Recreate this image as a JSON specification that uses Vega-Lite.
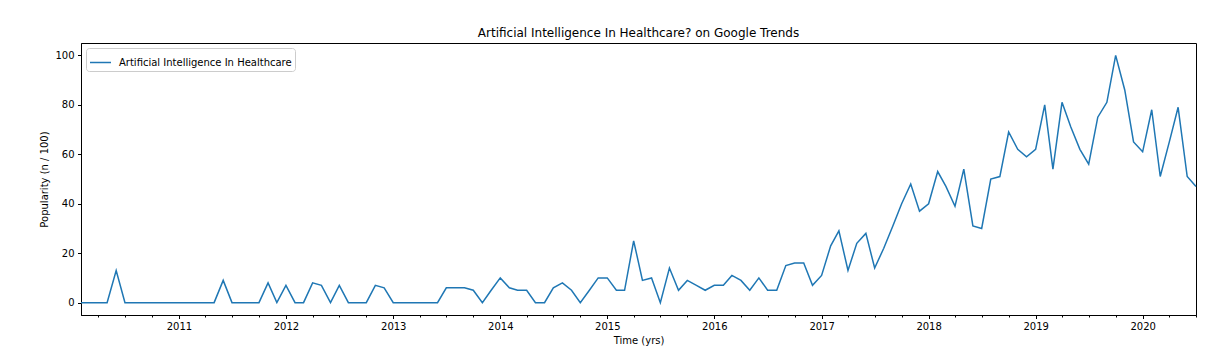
{
  "$schema": "https://vega.github.io/schema/vega-lite/v6.json",
  "width": 1115,
  "height": 272,
  "autosize": {"type": "none"},
  "padding": {"left": 81, "top": 43, "right": 31, "bottom": 44},
  "title": {"text": "Artificial Intelligence In Healthcare? on Google Trends", "fontSize": 12, "font": "DejaVu Sans", "fontWeight": "normal", "color": "black", "offset": 3},
  "config": {
    "view": {"stroke": "black", "strokeWidth": 1},
    "axis": {"labelFont": "DejaVu Sans", "titleFont": "DejaVu Sans", "labelColor": "black", "titleColor": "black", "tickColor": "black", "domainColor": "black", "labelFontSize": 10, "titleFontSize": 10, "titleFontWeight": "normal", "grid": false}
  },
  "data": {"values": [
    {"date": "2010-02-01", "popularity": 0, "series": "Artificial Intelligence In Healthcare"},
    {"date": "2010-03-01", "popularity": 0, "series": "Artificial Intelligence In Healthcare"},
    {"date": "2010-04-01", "popularity": 0, "series": "Artificial Intelligence In Healthcare"},
    {"date": "2010-05-01", "popularity": 0, "series": "Artificial Intelligence In Healthcare"},
    {"date": "2010-06-01", "popularity": 13, "series": "Artificial Intelligence In Healthcare"},
    {"date": "2010-07-01", "popularity": 0, "series": "Artificial Intelligence In Healthcare"},
    {"date": "2010-08-01", "popularity": 0, "series": "Artificial Intelligence In Healthcare"},
    {"date": "2010-09-01", "popularity": 0, "series": "Artificial Intelligence In Healthcare"},
    {"date": "2010-10-01", "popularity": 0, "series": "Artificial Intelligence In Healthcare"},
    {"date": "2010-11-01", "popularity": 0, "series": "Artificial Intelligence In Healthcare"},
    {"date": "2010-12-01", "popularity": 0, "series": "Artificial Intelligence In Healthcare"},
    {"date": "2011-01-01", "popularity": 0, "series": "Artificial Intelligence In Healthcare"},
    {"date": "2011-02-01", "popularity": 0, "series": "Artificial Intelligence In Healthcare"},
    {"date": "2011-03-01", "popularity": 0, "series": "Artificial Intelligence In Healthcare"},
    {"date": "2011-04-01", "popularity": 0, "series": "Artificial Intelligence In Healthcare"},
    {"date": "2011-05-01", "popularity": 0, "series": "Artificial Intelligence In Healthcare"},
    {"date": "2011-06-01", "popularity": 9, "series": "Artificial Intelligence In Healthcare"},
    {"date": "2011-07-01", "popularity": 0, "series": "Artificial Intelligence In Healthcare"},
    {"date": "2011-08-01", "popularity": 0, "series": "Artificial Intelligence In Healthcare"},
    {"date": "2011-09-01", "popularity": 0, "series": "Artificial Intelligence In Healthcare"},
    {"date": "2011-10-01", "popularity": 0, "series": "Artificial Intelligence In Healthcare"},
    {"date": "2011-11-01", "popularity": 8, "series": "Artificial Intelligence In Healthcare"},
    {"date": "2011-12-01", "popularity": 0, "series": "Artificial Intelligence In Healthcare"},
    {"date": "2012-01-01", "popularity": 7, "series": "Artificial Intelligence In Healthcare"},
    {"date": "2012-02-01", "popularity": 0, "series": "Artificial Intelligence In Healthcare"},
    {"date": "2012-03-01", "popularity": 0, "series": "Artificial Intelligence In Healthcare"},
    {"date": "2012-04-01", "popularity": 8, "series": "Artificial Intelligence In Healthcare"},
    {"date": "2012-05-01", "popularity": 7, "series": "Artificial Intelligence In Healthcare"},
    {"date": "2012-06-01", "popularity": 0, "series": "Artificial Intelligence In Healthcare"},
    {"date": "2012-07-01", "popularity": 7, "series": "Artificial Intelligence In Healthcare"},
    {"date": "2012-08-01", "popularity": 0, "series": "Artificial Intelligence In Healthcare"},
    {"date": "2012-09-01", "popularity": 0, "series": "Artificial Intelligence In Healthcare"},
    {"date": "2012-10-01", "popularity": 0, "series": "Artificial Intelligence In Healthcare"},
    {"date": "2012-11-01", "popularity": 7, "series": "Artificial Intelligence In Healthcare"},
    {"date": "2012-12-01", "popularity": 6, "series": "Artificial Intelligence In Healthcare"},
    {"date": "2013-01-01", "popularity": 0, "series": "Artificial Intelligence In Healthcare"},
    {"date": "2013-02-01", "popularity": 0, "series": "Artificial Intelligence In Healthcare"},
    {"date": "2013-03-01", "popularity": 0, "series": "Artificial Intelligence In Healthcare"},
    {"date": "2013-04-01", "popularity": 0, "series": "Artificial Intelligence In Healthcare"},
    {"date": "2013-05-01", "popularity": 0, "series": "Artificial Intelligence In Healthcare"},
    {"date": "2013-06-01", "popularity": 0, "series": "Artificial Intelligence In Healthcare"},
    {"date": "2013-07-01", "popularity": 6, "series": "Artificial Intelligence In Healthcare"},
    {"date": "2013-08-01", "popularity": 6, "series": "Artificial Intelligence In Healthcare"},
    {"date": "2013-09-01", "popularity": 6, "series": "Artificial Intelligence In Healthcare"},
    {"date": "2013-10-01", "popularity": 5, "series": "Artificial Intelligence In Healthcare"},
    {"date": "2013-11-01", "popularity": 0, "series": "Artificial Intelligence In Healthcare"},
    {"date": "2013-12-01", "popularity": 5, "series": "Artificial Intelligence In Healthcare"},
    {"date": "2014-01-01", "popularity": 10, "series": "Artificial Intelligence In Healthcare"},
    {"date": "2014-02-01", "popularity": 6, "series": "Artificial Intelligence In Healthcare"},
    {"date": "2014-03-01", "popularity": 5, "series": "Artificial Intelligence In Healthcare"},
    {"date": "2014-04-01", "popularity": 5, "series": "Artificial Intelligence In Healthcare"},
    {"date": "2014-05-01", "popularity": 0, "series": "Artificial Intelligence In Healthcare"},
    {"date": "2014-06-01", "popularity": 0, "series": "Artificial Intelligence In Healthcare"},
    {"date": "2014-07-01", "popularity": 6, "series": "Artificial Intelligence In Healthcare"},
    {"date": "2014-08-01", "popularity": 8, "series": "Artificial Intelligence In Healthcare"},
    {"date": "2014-09-01", "popularity": 5, "series": "Artificial Intelligence In Healthcare"},
    {"date": "2014-10-01", "popularity": 0, "series": "Artificial Intelligence In Healthcare"},
    {"date": "2014-11-01", "popularity": 5, "series": "Artificial Intelligence In Healthcare"},
    {"date": "2014-12-01", "popularity": 10, "series": "Artificial Intelligence In Healthcare"},
    {"date": "2015-01-01", "popularity": 10, "series": "Artificial Intelligence In Healthcare"},
    {"date": "2015-02-01", "popularity": 5, "series": "Artificial Intelligence In Healthcare"},
    {"date": "2015-03-01", "popularity": 5, "series": "Artificial Intelligence In Healthcare"},
    {"date": "2015-04-01", "popularity": 25, "series": "Artificial Intelligence In Healthcare"},
    {"date": "2015-05-01", "popularity": 9, "series": "Artificial Intelligence In Healthcare"},
    {"date": "2015-06-01", "popularity": 10, "series": "Artificial Intelligence In Healthcare"},
    {"date": "2015-07-01", "popularity": 0, "series": "Artificial Intelligence In Healthcare"},
    {"date": "2015-08-01", "popularity": 14, "series": "Artificial Intelligence In Healthcare"},
    {"date": "2015-09-01", "popularity": 5, "series": "Artificial Intelligence In Healthcare"},
    {"date": "2015-10-01", "popularity": 9, "series": "Artificial Intelligence In Healthcare"},
    {"date": "2015-11-01", "popularity": 7, "series": "Artificial Intelligence In Healthcare"},
    {"date": "2015-12-01", "popularity": 5, "series": "Artificial Intelligence In Healthcare"},
    {"date": "2016-01-01", "popularity": 7, "series": "Artificial Intelligence In Healthcare"},
    {"date": "2016-02-01", "popularity": 7, "series": "Artificial Intelligence In Healthcare"},
    {"date": "2016-03-01", "popularity": 11, "series": "Artificial Intelligence In Healthcare"},
    {"date": "2016-04-01", "popularity": 9, "series": "Artificial Intelligence In Healthcare"},
    {"date": "2016-05-01", "popularity": 5, "series": "Artificial Intelligence In Healthcare"},
    {"date": "2016-06-01", "popularity": 10, "series": "Artificial Intelligence In Healthcare"},
    {"date": "2016-07-01", "popularity": 5, "series": "Artificial Intelligence In Healthcare"},
    {"date": "2016-08-01", "popularity": 5, "series": "Artificial Intelligence In Healthcare"},
    {"date": "2016-09-01", "popularity": 15, "series": "Artificial Intelligence In Healthcare"},
    {"date": "2016-10-01", "popularity": 16, "series": "Artificial Intelligence In Healthcare"},
    {"date": "2016-11-01", "popularity": 16, "series": "Artificial Intelligence In Healthcare"},
    {"date": "2016-12-01", "popularity": 7, "series": "Artificial Intelligence In Healthcare"},
    {"date": "2017-01-01", "popularity": 11, "series": "Artificial Intelligence In Healthcare"},
    {"date": "2017-02-01", "popularity": 23, "series": "Artificial Intelligence In Healthcare"},
    {"date": "2017-03-01", "popularity": 29, "series": "Artificial Intelligence In Healthcare"},
    {"date": "2017-04-01", "popularity": 13, "series": "Artificial Intelligence In Healthcare"},
    {"date": "2017-05-01", "popularity": 24, "series": "Artificial Intelligence In Healthcare"},
    {"date": "2017-06-01", "popularity": 28, "series": "Artificial Intelligence In Healthcare"},
    {"date": "2017-07-01", "popularity": 14, "series": "Artificial Intelligence In Healthcare"},
    {"date": "2017-08-01", "popularity": 22, "series": "Artificial Intelligence In Healthcare"},
    {"date": "2017-09-01", "popularity": 31, "series": "Artificial Intelligence In Healthcare"},
    {"date": "2017-10-01", "popularity": 40, "series": "Artificial Intelligence In Healthcare"},
    {"date": "2017-11-01", "popularity": 48, "series": "Artificial Intelligence In Healthcare"},
    {"date": "2017-12-01", "popularity": 37, "series": "Artificial Intelligence In Healthcare"},
    {"date": "2018-01-01", "popularity": 40, "series": "Artificial Intelligence In Healthcare"},
    {"date": "2018-02-01", "popularity": 53, "series": "Artificial Intelligence In Healthcare"},
    {"date": "2018-03-01", "popularity": 47, "series": "Artificial Intelligence In Healthcare"},
    {"date": "2018-04-01", "popularity": 39, "series": "Artificial Intelligence In Healthcare"},
    {"date": "2018-05-01", "popularity": 54, "series": "Artificial Intelligence In Healthcare"},
    {"date": "2018-06-01", "popularity": 31, "series": "Artificial Intelligence In Healthcare"},
    {"date": "2018-07-01", "popularity": 30, "series": "Artificial Intelligence In Healthcare"},
    {"date": "2018-08-01", "popularity": 50, "series": "Artificial Intelligence In Healthcare"},
    {"date": "2018-09-01", "popularity": 51, "series": "Artificial Intelligence In Healthcare"},
    {"date": "2018-10-01", "popularity": 69, "series": "Artificial Intelligence In Healthcare"},
    {"date": "2018-11-01", "popularity": 62, "series": "Artificial Intelligence In Healthcare"},
    {"date": "2018-12-01", "popularity": 59, "series": "Artificial Intelligence In Healthcare"},
    {"date": "2019-01-01", "popularity": 62, "series": "Artificial Intelligence In Healthcare"},
    {"date": "2019-02-01", "popularity": 80, "series": "Artificial Intelligence In Healthcare"},
    {"date": "2019-03-01", "popularity": 54, "series": "Artificial Intelligence In Healthcare"},
    {"date": "2019-04-01", "popularity": 81, "series": "Artificial Intelligence In Healthcare"},
    {"date": "2019-05-01", "popularity": 71, "series": "Artificial Intelligence In Healthcare"},
    {"date": "2019-06-01", "popularity": 62, "series": "Artificial Intelligence In Healthcare"},
    {"date": "2019-07-01", "popularity": 56, "series": "Artificial Intelligence In Healthcare"},
    {"date": "2019-08-01", "popularity": 75, "series": "Artificial Intelligence In Healthcare"},
    {"date": "2019-09-01", "popularity": 81, "series": "Artificial Intelligence In Healthcare"},
    {"date": "2019-10-01", "popularity": 100, "series": "Artificial Intelligence In Healthcare"},
    {"date": "2019-11-01", "popularity": 86, "series": "Artificial Intelligence In Healthcare"},
    {"date": "2019-12-01", "popularity": 65, "series": "Artificial Intelligence In Healthcare"},
    {"date": "2020-01-01", "popularity": 61, "series": "Artificial Intelligence In Healthcare"},
    {"date": "2020-02-01", "popularity": 78, "series": "Artificial Intelligence In Healthcare"},
    {"date": "2020-03-01", "popularity": 51, "series": "Artificial Intelligence In Healthcare"},
    {"date": "2020-04-01", "popularity": 65, "series": "Artificial Intelligence In Healthcare"},
    {"date": "2020-05-01", "popularity": 79, "series": "Artificial Intelligence In Healthcare"},
    {"date": "2020-06-01", "popularity": 51, "series": "Artificial Intelligence In Healthcare"},
    {"date": "2020-07-01", "popularity": 47, "series": "Artificial Intelligence In Healthcare"}
  ]},
  "layer": [
    {
      "mark": {"type": "line", "strokeWidth": 1.5},
      "encoding": {
        "x": {
          "field": "date", "type": "temporal",
          "scale": {"type": "utc", "domain": [{"year": 2010, "month": 2, "date": 1, "utc": true}, {"year": 2020, "month": 7, "date": 1, "utc": true}]},
          "axis": {
            "title": "Time (yrs)", "format": "%Y", "tickSize": 3.5, "labelPadding": 3, "titlePadding": 4,
            "values": [
              {"year": 2011, "month": 1, "date": 1, "utc": true},
              {"year": 2012, "month": 1, "date": 1, "utc": true},
              {"year": 2013, "month": 1, "date": 1, "utc": true},
              {"year": 2014, "month": 1, "date": 1, "utc": true},
              {"year": 2015, "month": 1, "date": 1, "utc": true},
              {"year": 2016, "month": 1, "date": 1, "utc": true},
              {"year": 2017, "month": 1, "date": 1, "utc": true},
              {"year": 2018, "month": 1, "date": 1, "utc": true},
              {"year": 2019, "month": 1, "date": 1, "utc": true},
              {"year": 2020, "month": 1, "date": 1, "utc": true}
            ]
          }
        },
        "y": {
          "field": "popularity", "type": "quantitative",
          "scale": {"domain": [-5, 105], "nice": false, "zero": false},
          "axis": {"title": "Popularity (n / 100)", "values": [0, 20, 40, 60, 80, 100], "tickSize": 3.5, "labelPadding": 3.5, "titlePadding": 5}
        },
        "color": {
          "field": "series", "type": "nominal",
          "scale": {"range": ["#1f77b4"]},
          "legend": {"orient": "top-left", "offset": 5, "title": null, "symbolType": "stroke", "symbolSize": 441, "symbolStrokeWidth": 1.5, "labelFont": "DejaVu Sans", "labelFontSize": 10, "labelLimit": 400, "labelColor": "black", "labelOffset": 7, "strokeColor": "#cccccc", "fillColor": "white", "padding": 3, "cornerRadius": 3}
        }
      }
    },
    {
      "mark": {"type": "rule", "opacity": 0},
      "encoding": {
        "x": {
          "field": "date", "type": "temporal",
          "axis": {
            "orient": "bottom", "title": null, "labels": false, "domain": false, "tickSize": 2,
            "values": [
              {"year": 2010, "month": 4, "date": 1, "utc": true}, {"year": 2010, "month": 7, "date": 1, "utc": true}, {"year": 2010, "month": 10, "date": 1, "utc": true},
              {"year": 2011, "month": 4, "date": 1, "utc": true}, {"year": 2011, "month": 7, "date": 1, "utc": true}, {"year": 2011, "month": 10, "date": 1, "utc": true},
              {"year": 2012, "month": 4, "date": 1, "utc": true}, {"year": 2012, "month": 7, "date": 1, "utc": true}, {"year": 2012, "month": 10, "date": 1, "utc": true},
              {"year": 2013, "month": 4, "date": 1, "utc": true}, {"year": 2013, "month": 7, "date": 1, "utc": true}, {"year": 2013, "month": 10, "date": 1, "utc": true},
              {"year": 2014, "month": 4, "date": 1, "utc": true}, {"year": 2014, "month": 7, "date": 1, "utc": true}, {"year": 2014, "month": 10, "date": 1, "utc": true},
              {"year": 2015, "month": 4, "date": 1, "utc": true}, {"year": 2015, "month": 7, "date": 1, "utc": true}, {"year": 2015, "month": 10, "date": 1, "utc": true},
              {"year": 2016, "month": 4, "date": 1, "utc": true}, {"year": 2016, "month": 7, "date": 1, "utc": true}, {"year": 2016, "month": 10, "date": 1, "utc": true},
              {"year": 2017, "month": 4, "date": 1, "utc": true}, {"year": 2017, "month": 7, "date": 1, "utc": true}, {"year": 2017, "month": 10, "date": 1, "utc": true},
              {"year": 2018, "month": 4, "date": 1, "utc": true}, {"year": 2018, "month": 7, "date": 1, "utc": true}, {"year": 2018, "month": 10, "date": 1, "utc": true},
              {"year": 2019, "month": 4, "date": 1, "utc": true}, {"year": 2019, "month": 7, "date": 1, "utc": true}, {"year": 2019, "month": 10, "date": 1, "utc": true},
              {"year": 2020, "month": 4, "date": 1, "utc": true}, {"year": 2020, "month": 7, "date": 1, "utc": true}
            ]
          }
        }
      }
    }
  ],
  "resolve": {"axis": {"x": "independent"}}
}
